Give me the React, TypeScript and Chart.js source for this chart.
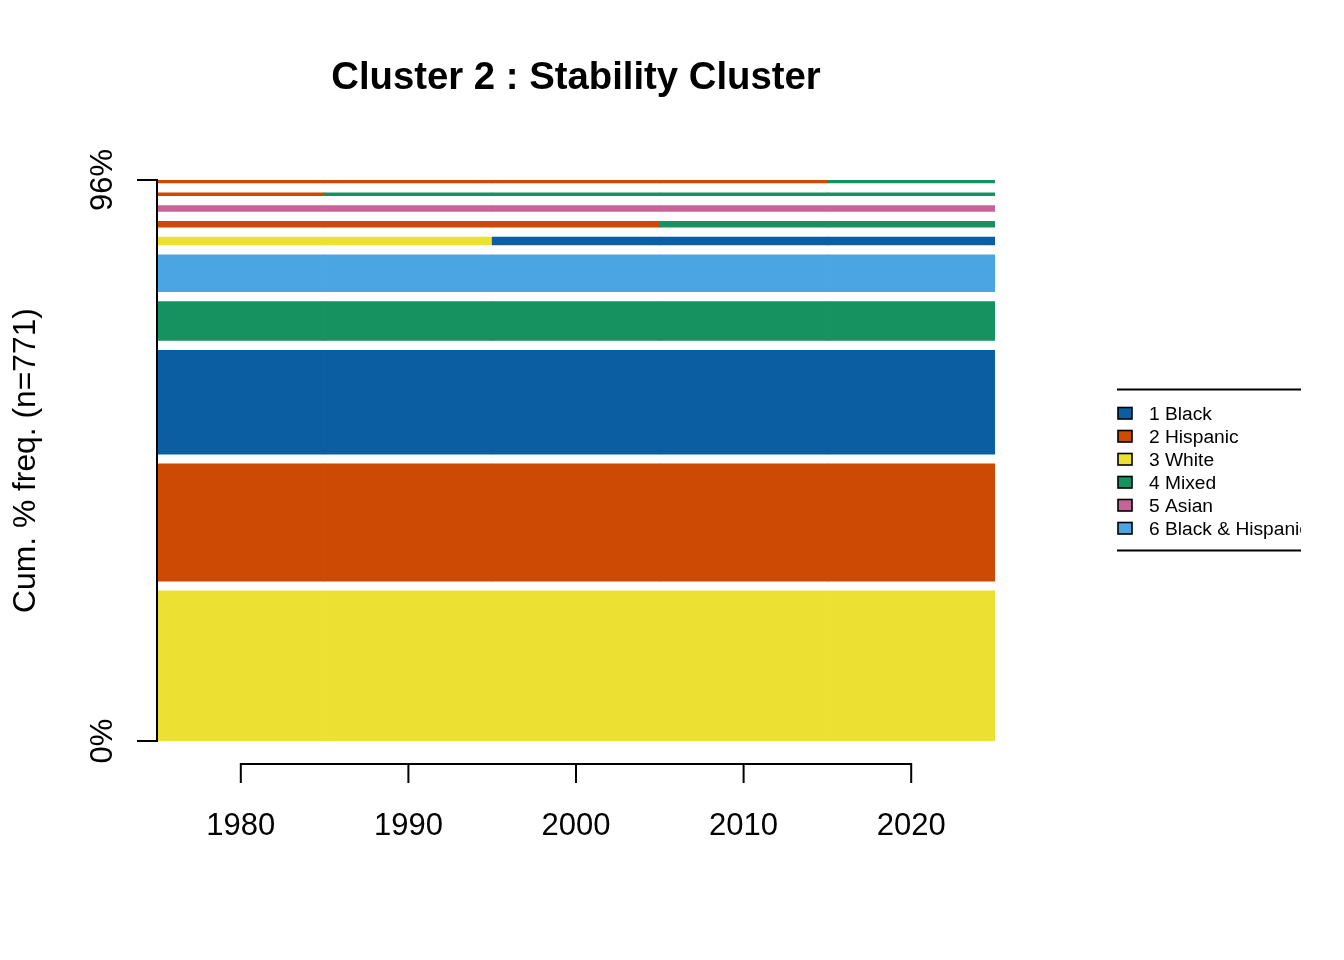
import React, { useEffect, useRef } from "react";
import { Chart, registerables } from "chart.js";

Chart.register(...registerables);

// ---------------- data ----------------
const chartTitle = "Cluster 2 : Stability Cluster";
const sampleSize = 771;
const yAxisTitle = `Cum. % freq. (n=${sampleSize})`;

const stateLabels = ["1 Black", "2 Hispanic", "3 White", "4 Mixed", "5 Asian", "6 Black & Hispanic"];
const stateColors = ["#0B5EA1", "#CC4A04", "#ECE133", "#169160", "#C46498", "#4AA5E2"];

const years = [1980, 1990, 2000, 2010, 2020];
const yearLabels = ["1980", "1990", "2000", "2010", "2020"];

// frequency (% of n) of the 10 most frequent sequences, most frequent first (bottom)
const seqFreqPct = [30.5, 23.8, 21.1, 7.9, 7.5, 1.6, 1.2, 1.2, 0.6, 0.6];
// state (1-based index into stateLabels) of each sequence at each year
const seqStates = [
  [3, 3, 3, 3, 3],
  [2, 2, 2, 2, 2],
  [1, 1, 1, 1, 1],
  [4, 4, 4, 4, 4],
  [6, 6, 6, 6, 6],
  [3, 3, 1, 1, 1],
  [2, 2, 2, 4, 4],
  [5, 5, 5, 5, 5],
  [2, 4, 4, 4, 4],
  [2, 2, 2, 2, 4],
];

// ---------------- layout / style ----------------
const W = 1344;
const H = 960;
const FONT = '"Liberation Sans", Arial, Helvetica, sans-serif';
const GAP = 2.0; // vertical space between sequence bars (in % units)

export default function App() {
  const ref = useRef<HTMLCanvasElement>(null);

  useEffect(() => {
    const canvas = ref.current;
    if (!canvas) return;

    const bottoms: number[] = [];
    let acc = 0;
    seqFreqPct.forEach((f) => {
      bottoms.push(acc);
      acc += f + GAP;
    });
    const yMax = acc - GAP;
    const cumPct = seqFreqPct.reduce((a, b) => a + b, 0);
    const yTickLabels = ["0%", `${Math.round(cumPct)}%`];

    const datasets = seqStates.map((states, i) => ({
      label: `seq ${i + 1}`,
      data: years.map((yr) => ({ x: yr, y: [bottoms[i], bottoms[i] + seqFreqPct[i]] })),
      backgroundColor: states.map((s) => stateColors[s - 1]),
      borderWidth: 0,
      barPercentage: 1,
      categoryPercentage: 1,
      grouped: false,
    }));

    const decor = {
      id: "rDecor",
      afterDraw(chart: any) {
        const ctx: CanvasRenderingContext2D = chart.ctx;
        const xs = chart.scales.x;
        const ys = chart.scales.y;
        const area = chart.chartArea;
        ctx.save();
        ctx.fillStyle = "#000";
        ctx.strokeStyle = "#000";
        ctx.lineWidth = 2;
        ctx.lineCap = "butt";
        ctx.lineJoin = "miter";

        // title
        ctx.font = `bold 38.3px ${FONT}`;
        ctx.textAlign = "center";
        ctx.textBaseline = "alphabetic";
        ctx.fillText(chartTitle, (area.left + area.right) / 2, 89);

        // y axis
        const yTop = ys.getPixelForValue(yMax);
        const yBot = ys.getPixelForValue(0);
        const axX = area.left;
        ctx.beginPath();
        ctx.moveTo(axX - 20, yTop);
        ctx.lineTo(axX, yTop);
        ctx.lineTo(axX, yBot);
        ctx.lineTo(axX - 20, yBot);
        ctx.stroke();

        ctx.font = `31px ${FONT}`;
        [yBot, yTop].forEach((py, k) => {
          ctx.save();
          ctx.translate(112, py);
          ctx.rotate(-Math.PI / 2);
          ctx.textAlign = "center";
          ctx.fillText(yTickLabels[k], 0, 0);
          ctx.restore();
        });

        // y title
        ctx.save();
        ctx.font = `31.8px ${FONT}`;
        ctx.translate(35, (yTop + yBot) / 2);
        ctx.rotate(-Math.PI / 2);
        ctx.textAlign = "center";
        ctx.fillText(yAxisTitle, 0, 0);
        ctx.restore();

        // x axis
        const axY = area.bottom + 23;
        const tickLen = 19;
        const px = years.map((v) => xs.getPixelForValue(v));
        ctx.beginPath();
        ctx.moveTo(px[0], axY + tickLen);
        ctx.lineTo(px[0], axY);
        ctx.lineTo(px[px.length - 1], axY);
        ctx.lineTo(px[px.length - 1], axY + tickLen);
        for (let i = 1; i < px.length - 1; i++) {
          ctx.moveTo(px[i], axY);
          ctx.lineTo(px[i], axY + tickLen);
        }
        ctx.stroke();
        ctx.textAlign = "center";
        px.forEach((p, i) => ctx.fillText(yearLabels[i], p, area.bottom + 94));

        // legend
        const lgX = 1117;
        const lgR = 1301;
        ctx.beginPath();
        ctx.moveTo(lgX, 389.5);
        ctx.lineTo(lgR, 389.5);
        ctx.moveTo(lgX, 550.5);
        ctx.lineTo(lgR, 550.5);
        ctx.stroke();
        ctx.save();
        ctx.beginPath();
        ctx.rect(lgX - 5, 395, lgR - lgX + 5, 150);
        ctx.clip();
        ctx.font = `19.2px ${FONT}`;
        ctx.textAlign = "left";
        stateLabels.forEach((lab, i) => {
          const base = 419.5 + i * 23;
          ctx.fillStyle = stateColors[i];
          ctx.fillRect(lgX + 1, base - 12, 14, 11.5);
          ctx.lineWidth = 1.6;
          ctx.strokeStyle = "#000";
          ctx.strokeRect(lgX + 1, base - 12, 14, 11.5);
          ctx.fillStyle = "#000";
          ctx.fillText(lab, 1149, base);
        });
        ctx.restore();

        ctx.restore();
      },
    };

    const chart = new Chart(canvas, {
      type: "bar",
      data: { datasets: datasets as any },
      options: {
        animation: false,
        responsive: false,
        devicePixelRatio: 1,
        layout: { padding: { left: 157, right: W - 995, top: 180, bottom: H - 741 } },
        plugins: {
          legend: { display: false },
          title: { display: false },
          tooltip: { enabled: false },
        },
        scales: {
          x: {
            type: "linear",
            min: 1975,
            max: 2025,
            offset: false,
            display: false,
            afterBuildTicks: (s: any) => {
              s.ticks = years.map((v) => ({ value: v }));
            },
          },
          y: {
            type: "linear",
            min: 0,
            max: yMax,
            display: false,
            stacked: false,
          },
        },
      } as any,
      plugins: [decor],
    });

    return () => chart.destroy();
  }, []);

  return (
    <div style={{ position: "absolute", left: 0, top: 0, width: W, height: H, background: "#fff" }}>
      <canvas ref={ref} width={W} height={H} style={{ width: W, height: H, display: "block" }} />
    </div>
  );
}
